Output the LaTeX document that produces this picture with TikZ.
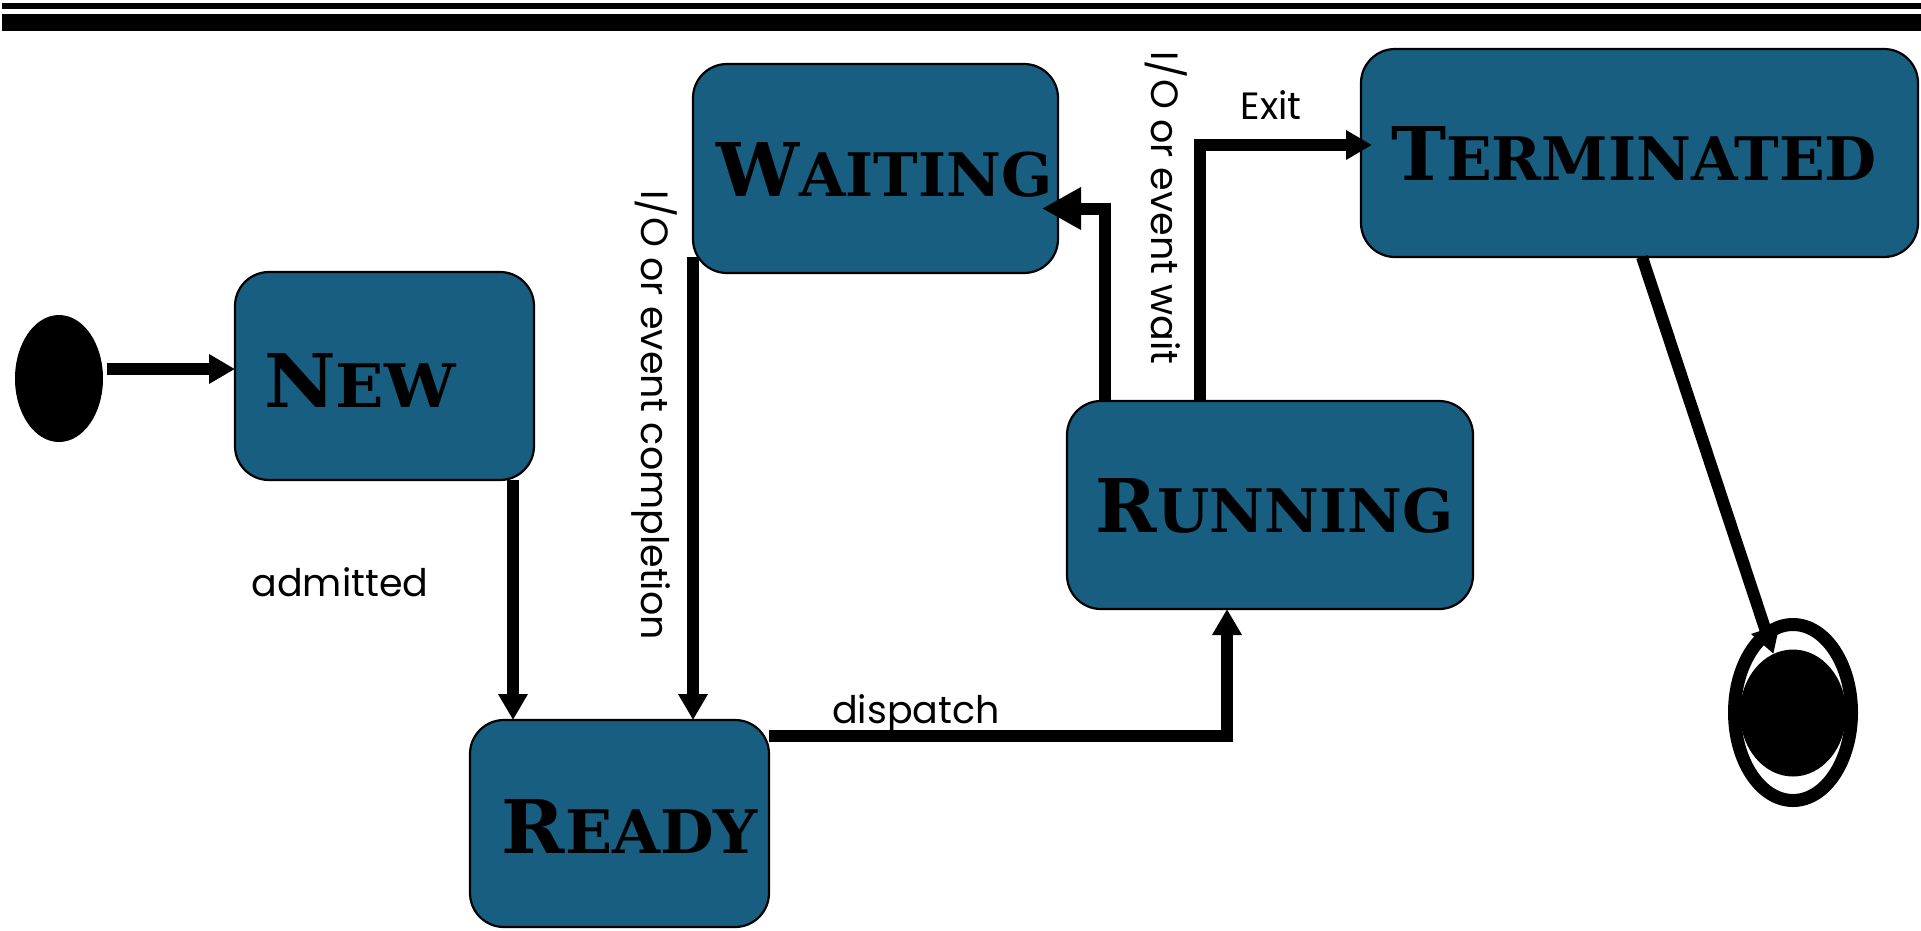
\documentclass[tikz,border=0pt]{standalone}
\usepackage{fontspec}
\usetikzlibrary{arrows.meta,shapes.geometric,calc}
\newfontfamily\statefont{DejaVu Serif}
\newfontfamily\labelfont{Poppins}
\definecolor{stateblue}{RGB}{23,94,128}
% state names in large/small capitals
\newcommand\stname[2]{{\fontsize{74}{74}\selectfont #1}{\fontsize{60}{60}\selectfont #2}}

\begin{document}
\begin{tikzpicture}[x=1pt,y=-1pt,
  statebox/.style={draw=black, line width=2.2pt, fill=stateblue, rounded corners=34pt,
                   inner sep=0pt, outer sep=0pt},
  statename/.style={anchor=base, inner sep=0pt, font=\statefont\bfseries},
  lbl/.style={inner sep=0pt, font=\labelfont\fontsize{38}{38}\selectfont},
  conn/.style={line width=12pt, -{Triangle[length=26pt,width=28pt]}},
  bigconn/.style={line width=12pt, -{Triangle[length=39pt,width=40pt]}},
  dot/.style={ellipse, fill=black, inner sep=0pt, outer sep=0pt},
]
\useasboundingbox (0,0) rectangle (1921,930);

% header rules
\fill[black] (2,3) rectangle (1921,9);
\fill[black] (2,14) rectangle (1921,31);

% states
\node[statebox, minimum width=299pt, minimum height=208pt] (new) at (384.5,376) {};
\node[statebox, minimum width=365pt, minimum height=209pt] (waiting) at (875.5,168.5) {};
\node[statebox, minimum width=557pt, minimum height=208pt] (terminated) at (1639.5,153) {};
\node[statebox, minimum width=406pt, minimum height=208pt] (running) at (1270,505) {};
\node[statebox, minimum width=299pt, minimum height=207pt] (ready) at (619.5,823.5) {};

\node[statename] (newname) at (360,407) {\scalebox{1.06}[1]{\stname{N}{EW}}};
\node[statename] (waitingname) at (884.5,196) {\stname{W}{AITING}};
\node[statename] (terminatedname) at (1634,180) {\stname{T}{ERMINATED}};
\node[statename] (runningname) at (1274.5,532) {\stname{R}{UNNING}};
\node[statename] (readyname) at (630,853) {\scalebox{1.03}[1]{\stname{R}{EADY}}};

% initial and final pseudo-states
\node[dot, minimum width=88pt, minimum height=127pt] (start) at (59,378.5) {};
\node[ellipse, draw=black, fill=white, line width=13pt, inner sep=0pt, outer sep=0pt,
      minimum width=117pt, minimum height=176pt] (finalring) at (1793,712.5) {};
\node[dot, minimum width=106pt, minimum height=127pt] (finaldot) at (1793,713) {};

% transitions
\draw[conn] ([xshift=4pt,yshift=9.5pt]start.east) -- ([yshift=9.5pt]start.east -| new.west);
\draw[conn] ([xshift=-21pt]new.south east) -- ([xshift=-21pt]new.south east |- ready.north);
\draw[conn] ([yshift=16pt]waiting.south west) -- (waiting.south west |- ready.north);
\draw[conn] ([yshift=-16pt]ready.north east) -| ([xshift=-43pt]running.south);
\draw[bigconn] ([xshift=38pt]running.north west) |- ([xshift=-16pt,yshift=-40pt]waiting.east);
\draw[conn] ([xshift=133pt]running.north west) |- ([xshift=11pt,yshift=8pt]terminated.west);
\draw[conn] ([xshift=2.5pt]terminated.south) -- (finaldot);

% transition labels
\node[lbl, anchor=base] (admitted) at (340,596) {admitted};
\node[lbl, anchor=base] (dispatch) at (916,723) {dispatch};
\node[lbl, anchor=base] (exit) at (1271,119) {Exit};
\node[lbl, rotate=-90] (iocompl) at (654,415) {I/O or event completion};
\node[lbl, rotate=-90] (iowait) at (1166,208) {I/O or event wait};
\end{tikzpicture}
\end{document}
